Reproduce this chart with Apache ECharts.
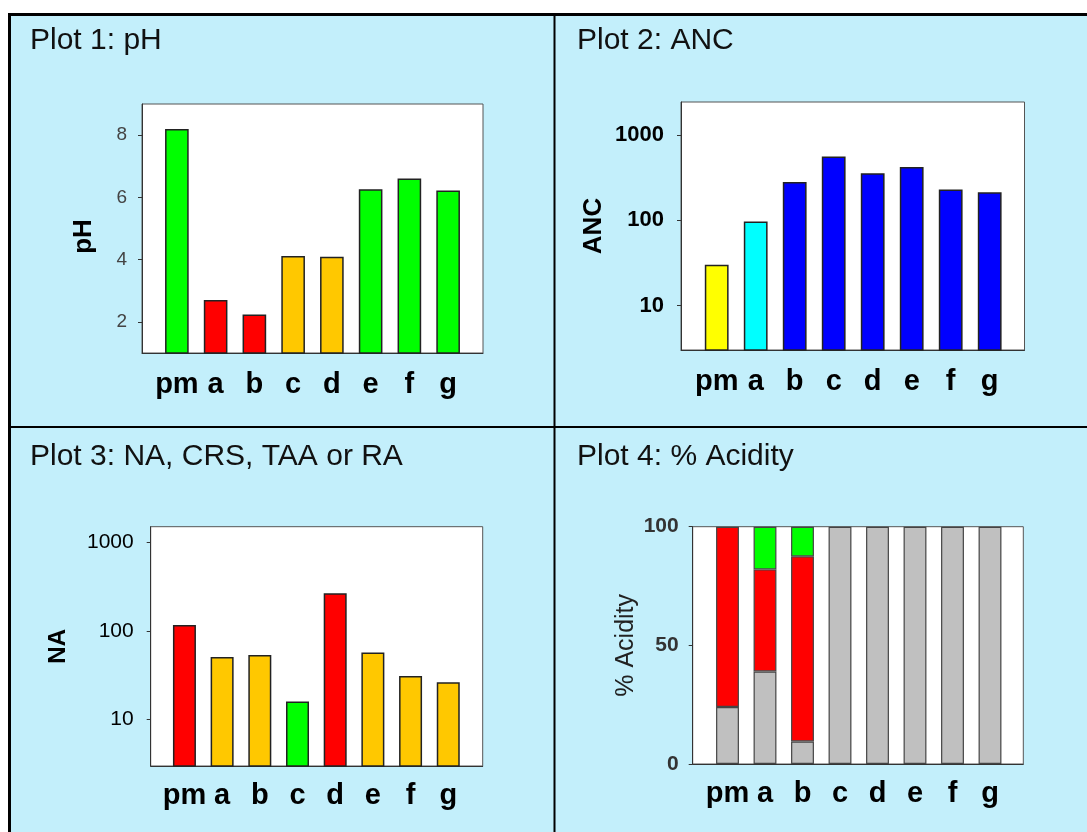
<!DOCTYPE html>
<html><head><meta charset="utf-8">
<script src="https://cdn.jsdelivr.net/npm/echarts@6.0.0/dist/echarts.min.js"></script>
<style>html,body{margin:0;padding:0;background:#fff}#chart{width:1087px;height:832px}</style>
</head><body><div id="chart"></div>
<script>
// ---- data ----
const categories = ['pm', 'a', 'b', 'c', 'd', 'e', 'f', 'g'];

const phValues = [8.2, 2.7, 2.24, 4.12, 4.09, 6.26, 6.61, 6.22];
const phColors = ['#00ff00', '#ff0000', '#ff0000', '#ffc800', '#ffc800', '#00ff00', '#00ff00', '#00ff00'];
const phTicks = [2, 4, 6, 8];

const ancValues = [30, 97, 281, 562, 356, 423, 230, 213];
const ancColors = ['#ffff00', '#00ffff', '#0000ff', '#0000ff', '#0000ff', '#0000ff', '#0000ff', '#0000ff'];

const naValues = [117, 51, 53.5, 16, 267, 57, 31, 26.4];
const naColors = ['#ff0000', '#ffc800', '#ffc800', '#00ff00', '#ff0000', '#ffc800', '#ffc800', '#ffc800'];

const logTicks = [10, 100, 1000];

const acidGray = [24, 39, 9.5, 100, 100, 100, 100, 100];
const acidRed = [76, 43, 78, 0, 0, 0, 0, 0];
const acidGreen = [0, 18, 12.5, 0, 0, 0, 0, 0];
const acidTicks = [0, 50, 100];

const titles = ['Plot 1: pH', 'Plot 2: ANC', 'Plot 3: NA, CRS, TAA or RA', 'Plot 4: % Acidity'];

// ---- layout / style ----
const FONT = '"Liberation Sans", Arial, sans-serif';
const panels = [
  { frame: { left: 142, top: 104, width: 341, height: 249 }, bars: { left: 157.5, width: 310 },
    type: 'value', min: 1, max: 9, ticks: phTicks, labelMargin: 17,
    yLabel: { fontSize: 19, fontWeight: 'normal', color: '#444', margin: 15 },
    name: 'pH', nameGap: 45, nameStyle: { fontSize: 26, fontWeight: 'bold', color: '#000', padding: [0, 16, 0, 0] } },
  { frame: { left: 681, top: 102, width: 343.5, height: 248 }, bars: { left: 697.2, width: 312 },
    type: 'log', min: 3, max: 2450, ticks: logTicks, labelMargin: 17,
    yLabel: { fontSize: 22, fontWeight: 'bold', color: '#000', margin: 17 },
    name: 'ANC', nameGap: 74, nameStyle: { fontSize: 26, fontWeight: 'bold', color: '#000' } },
  { frame: { left: 150.7, top: 526.7, width: 332, height: 239.3 }, bars: { left: 165.6, width: 301.5 },
    type: 'log', min: 3, max: 1500, ticks: logTicks, labelMargin: 15,
    yLabel: { fontSize: 21, fontWeight: 'normal', color: '#000', margin: 17 },
    name: 'NA', nameGap: 80, nameStyle: { fontSize: 24, fontWeight: 'bold', color: '#000' } },
  { frame: { left: 692.7, top: 526.7, width: 330.6, height: 237.3 }, bars: { left: 708.75, width: 300 },
    type: 'value', min: 0, max: 100, ticks: acidTicks, labelMargin: 15,
    yLabel: { fontSize: 21, fontWeight: 'bold', color: '#333', margin: 14 },
    name: '% Acidity', nameGap: 54, nameStyle: { fontSize: 25, fontWeight: 'normal', color: '#222' } }
];
const titlePos = [[30, 26], [577, 26], [30, 442], [577, 442]];

function isLogTick(v) {
  return logTicks.some(t => Math.abs(v - t) < 1e-6 * t);
}

const grid = [], xAxis = [], yAxis = [], series = [];
panels.forEach((p, i) => {
  const fi = 2 * i, bi = 2 * i + 1;
  grid.push(Object.assign({ show: true, backgroundColor: '#ffffff', borderColor: '#555', borderWidth: 1, containLabel: false }, p.frame));
  grid.push({ show: false, left: p.bars.left, width: p.bars.width, top: p.frame.top, height: p.frame.height, containLabel: false });

  xAxis.push({ gridIndex: fi, type: 'category', data: categories,
    axisLine: { show: true, lineStyle: { color: '#333', width: 1 } }, axisTick: { show: false }, axisLabel: { show: false } });
  xAxis.push({ gridIndex: bi, type: 'category', data: categories,
    axisLine: { show: false }, axisTick: { show: false }, splitLine: { show: false },
    axisLabel: { interval: 0, fontSize: 29, fontWeight: 'bold', color: '#000', fontFamily: FONT, margin: p.labelMargin } });

  const yl = Object.assign({ fontFamily: FONT }, p.yLabel);
  const yt = { show: true, length: 4, lineStyle: { color: '#333' } };
  if (p.type === 'log') {
    yl.formatter = v => (isLogTick(v) ? String(Math.round(v)) : '');
    yl.showMinLabel = false; yl.showMaxLabel = false;
  } else {
    yl.customValues = p.ticks;
    yt.customValues = p.ticks;
  }
  yAxis.push({ gridIndex: fi, type: p.type, min: p.min, max: p.max,
    axisLine: { show: true, lineStyle: { color: '#333', width: 1 } },
    axisTick: yt, axisLabel: yl, splitLine: { show: false },
    name: p.name, nameLocation: 'middle', nameGap: p.nameGap,
    nameTextStyle: Object.assign({ fontFamily: FONT }, p.nameStyle) });
  yAxis.push({ gridIndex: bi, type: p.type, min: p.min, max: p.max, show: false, splitLine: { show: false } });
});

function colored(values, colors) {
  return values.map((v, j) => ({ value: v, itemStyle: { color: colors[j] } }));
}
const barBase = { type: 'bar', barWidth: '61%', clip: true, itemStyle: { borderColor: '#222', borderWidth: 1.5 } };
series.push(Object.assign({}, barBase, { name: 'pH', xAxisIndex: 1, yAxisIndex: 1, data: colored(phValues, phColors) }));
series.push(Object.assign({}, barBase, { name: 'ANC', xAxisIndex: 3, yAxisIndex: 3, data: colored(ancValues, ancColors) }));
series.push(Object.assign({}, barBase, { name: 'NA', xAxisIndex: 5, yAxisIndex: 5, data: colored(naValues, naColors) }));
const nz = arr => arr.map(v => (v === 0 ? '-' : v));
[['Other', acidGray, '#c0c0c0'], ['Red', acidRed, '#ff0000'], ['Green', acidGreen, '#00ff00']].forEach(([n, arr, c]) => {
  series.push({ type: 'bar', name: n, stack: 'acid', xAxisIndex: 7, yAxisIndex: 7, barWidth: '61%', clip: true,
    itemStyle: { color: c, borderColor: '#444', borderWidth: 1.2 }, data: nz(arr) });
});

const option = {
  backgroundColor: '#ffffff',
  animation: false,
  textStyle: { fontFamily: FONT },
  title: titles.map((t, i) => ({ text: t, left: titlePos[i][0], top: titlePos[i][1], padding: 0,
    textStyle: { fontSize: 30, fontWeight: 'normal', color: '#111', fontFamily: FONT } })),
  graphic: { elements: [
    { type: 'rect', z: -10, silent: true, shape: { x: 9.5, y: 14.5, width: 1100, height: 840 }, style: { fill: '#c3effb', stroke: '#000', lineWidth: 3 } },
    { type: 'line', z: -9, silent: true, shape: { x1: 554.5, y1: 14, x2: 554.5, y2: 832 }, style: { stroke: '#000', lineWidth: 2 } },
    { type: 'line', z: -9, silent: true, shape: { x1: 9, y1: 427, x2: 1087, y2: 427 }, style: { stroke: '#000', lineWidth: 2 } }
  ] },
  grid, xAxis, yAxis, series
};
const chart = echarts.init(document.getElementById('chart'), null, { renderer: 'canvas' });
chart.setOption(option);
</script></body></html>
